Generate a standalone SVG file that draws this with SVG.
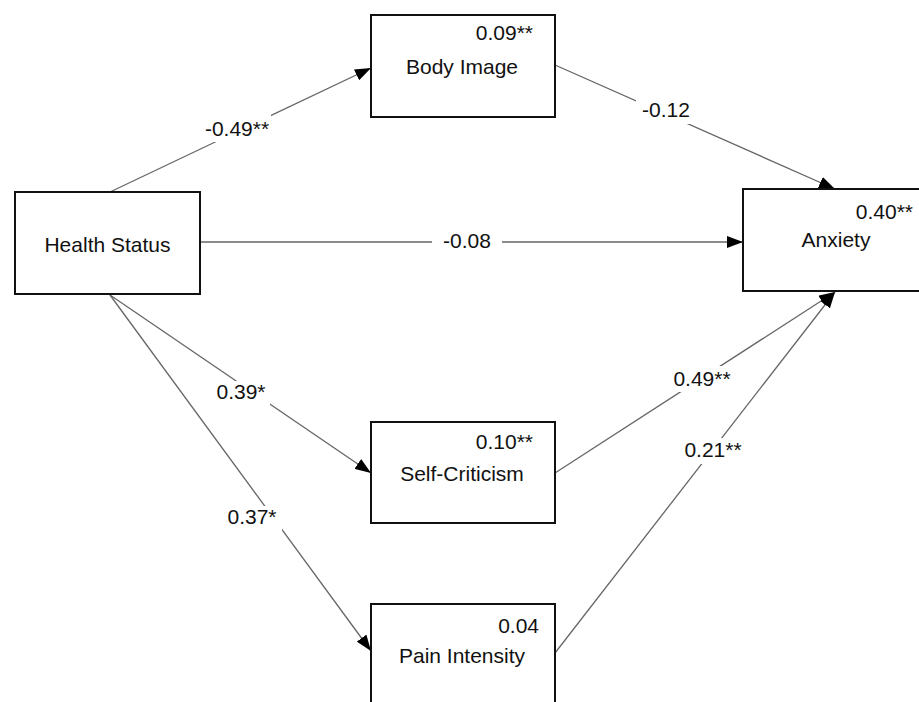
<svg xmlns="http://www.w3.org/2000/svg" width="919" height="702" viewBox="0 0 919 702">
  <style>
    .box { fill: #ffffff; stroke: #111111; stroke-width: 2; }
    .edge { stroke: #666666; stroke-width: 1.3; fill: none; marker-end: url(#arrow); }
    .bg { fill: #ffffff; stroke: none; }
    text { font-family: "Liberation Sans", Arial, Helvetica, sans-serif; font-size: 21px; fill: #111111; }
    .name { text-anchor: middle; }
    .val { text-anchor: end; }
    .lbl { text-anchor: middle; }
  </style>
  <defs>
    <marker id="arrow" viewBox="0 0 16 12" refX="16" refY="6" markerWidth="16" markerHeight="12" markerUnits="userSpaceOnUse" orient="auto">
      <path d="M0,0 L16,6 L0,12 z" fill="#000000"/>
    </marker>
  </defs>
  <rect x="0" y="0" width="919" height="702" fill="#ffffff"/>

  <g id="connectors">
    <line class="edge" x1="110" y1="192" x2="371" y2="68"/>
    <line class="edge" x1="555" y1="65" x2="835" y2="189"/>
    <line class="edge" x1="200" y1="242" x2="743" y2="242"/>
    <line class="edge" x1="110" y1="295" x2="371" y2="473"/>
    <line class="edge" x1="110" y1="295" x2="371" y2="651"/>
    <line class="edge" x1="555" y1="473" x2="835" y2="292"/>
    <line class="edge" x1="555" y1="653" x2="835" y2="292"/>

    <rect class="bg" x="203" y="114" width="68" height="28"/>
    <text class="lbl" x="237" y="136">-0.49**</text>
    <rect class="bg" x="636" y="98" width="60" height="26"/>
    <text class="lbl" x="666" y="117">-0.12</text>
    <rect class="bg" x="432" y="228" width="70" height="28"/>
    <text class="lbl" x="467" y="248">-0.08</text>
    <rect class="bg" x="214" y="381" width="56" height="26"/>
    <text class="lbl" x="241" y="399">0.39*</text>
    <rect class="bg" x="224" y="506" width="58" height="26"/>
    <text class="lbl" x="252" y="524">0.37*</text>
    <rect class="bg" x="670" y="366" width="66" height="26"/>
    <text class="lbl" x="702" y="386">0.49**</text>
    <rect class="bg" x="680" y="438" width="66" height="26"/>
    <text class="lbl" x="713" y="457">0.21**</text>
  </g>

  <g id="health-status">
    <rect class="box" x="15" y="192" width="185" height="102"/>
    <text class="name" x="107.5" y="252">Health Status</text>
  </g>
  <g id="body-image">
    <rect class="box" x="371" y="15" width="184" height="102"/>
    <text class="val" x="533" y="40">0.09**</text>
    <text class="name" x="462" y="74">Body Image</text>
  </g>
  <g id="anxiety">
    <rect class="box" x="743" y="189" width="186" height="102"/>
    <text class="val" x="913" y="219">0.40**</text>
    <text class="name" x="836" y="247">Anxiety</text>
  </g>
  <g id="self-criticism">
    <rect class="box" x="371" y="422" width="184" height="101"/>
    <text class="val" x="533" y="449">0.10**</text>
    <text class="name" x="462" y="481">Self-Criticism</text>
  </g>
  <g id="pain-intensity">
    <rect class="box" x="371" y="604" width="184" height="102"/>
    <text class="val" x="539" y="633">0.04</text>
    <text class="name" x="462" y="663">Pain Intensity</text>
  </g>
</svg>
